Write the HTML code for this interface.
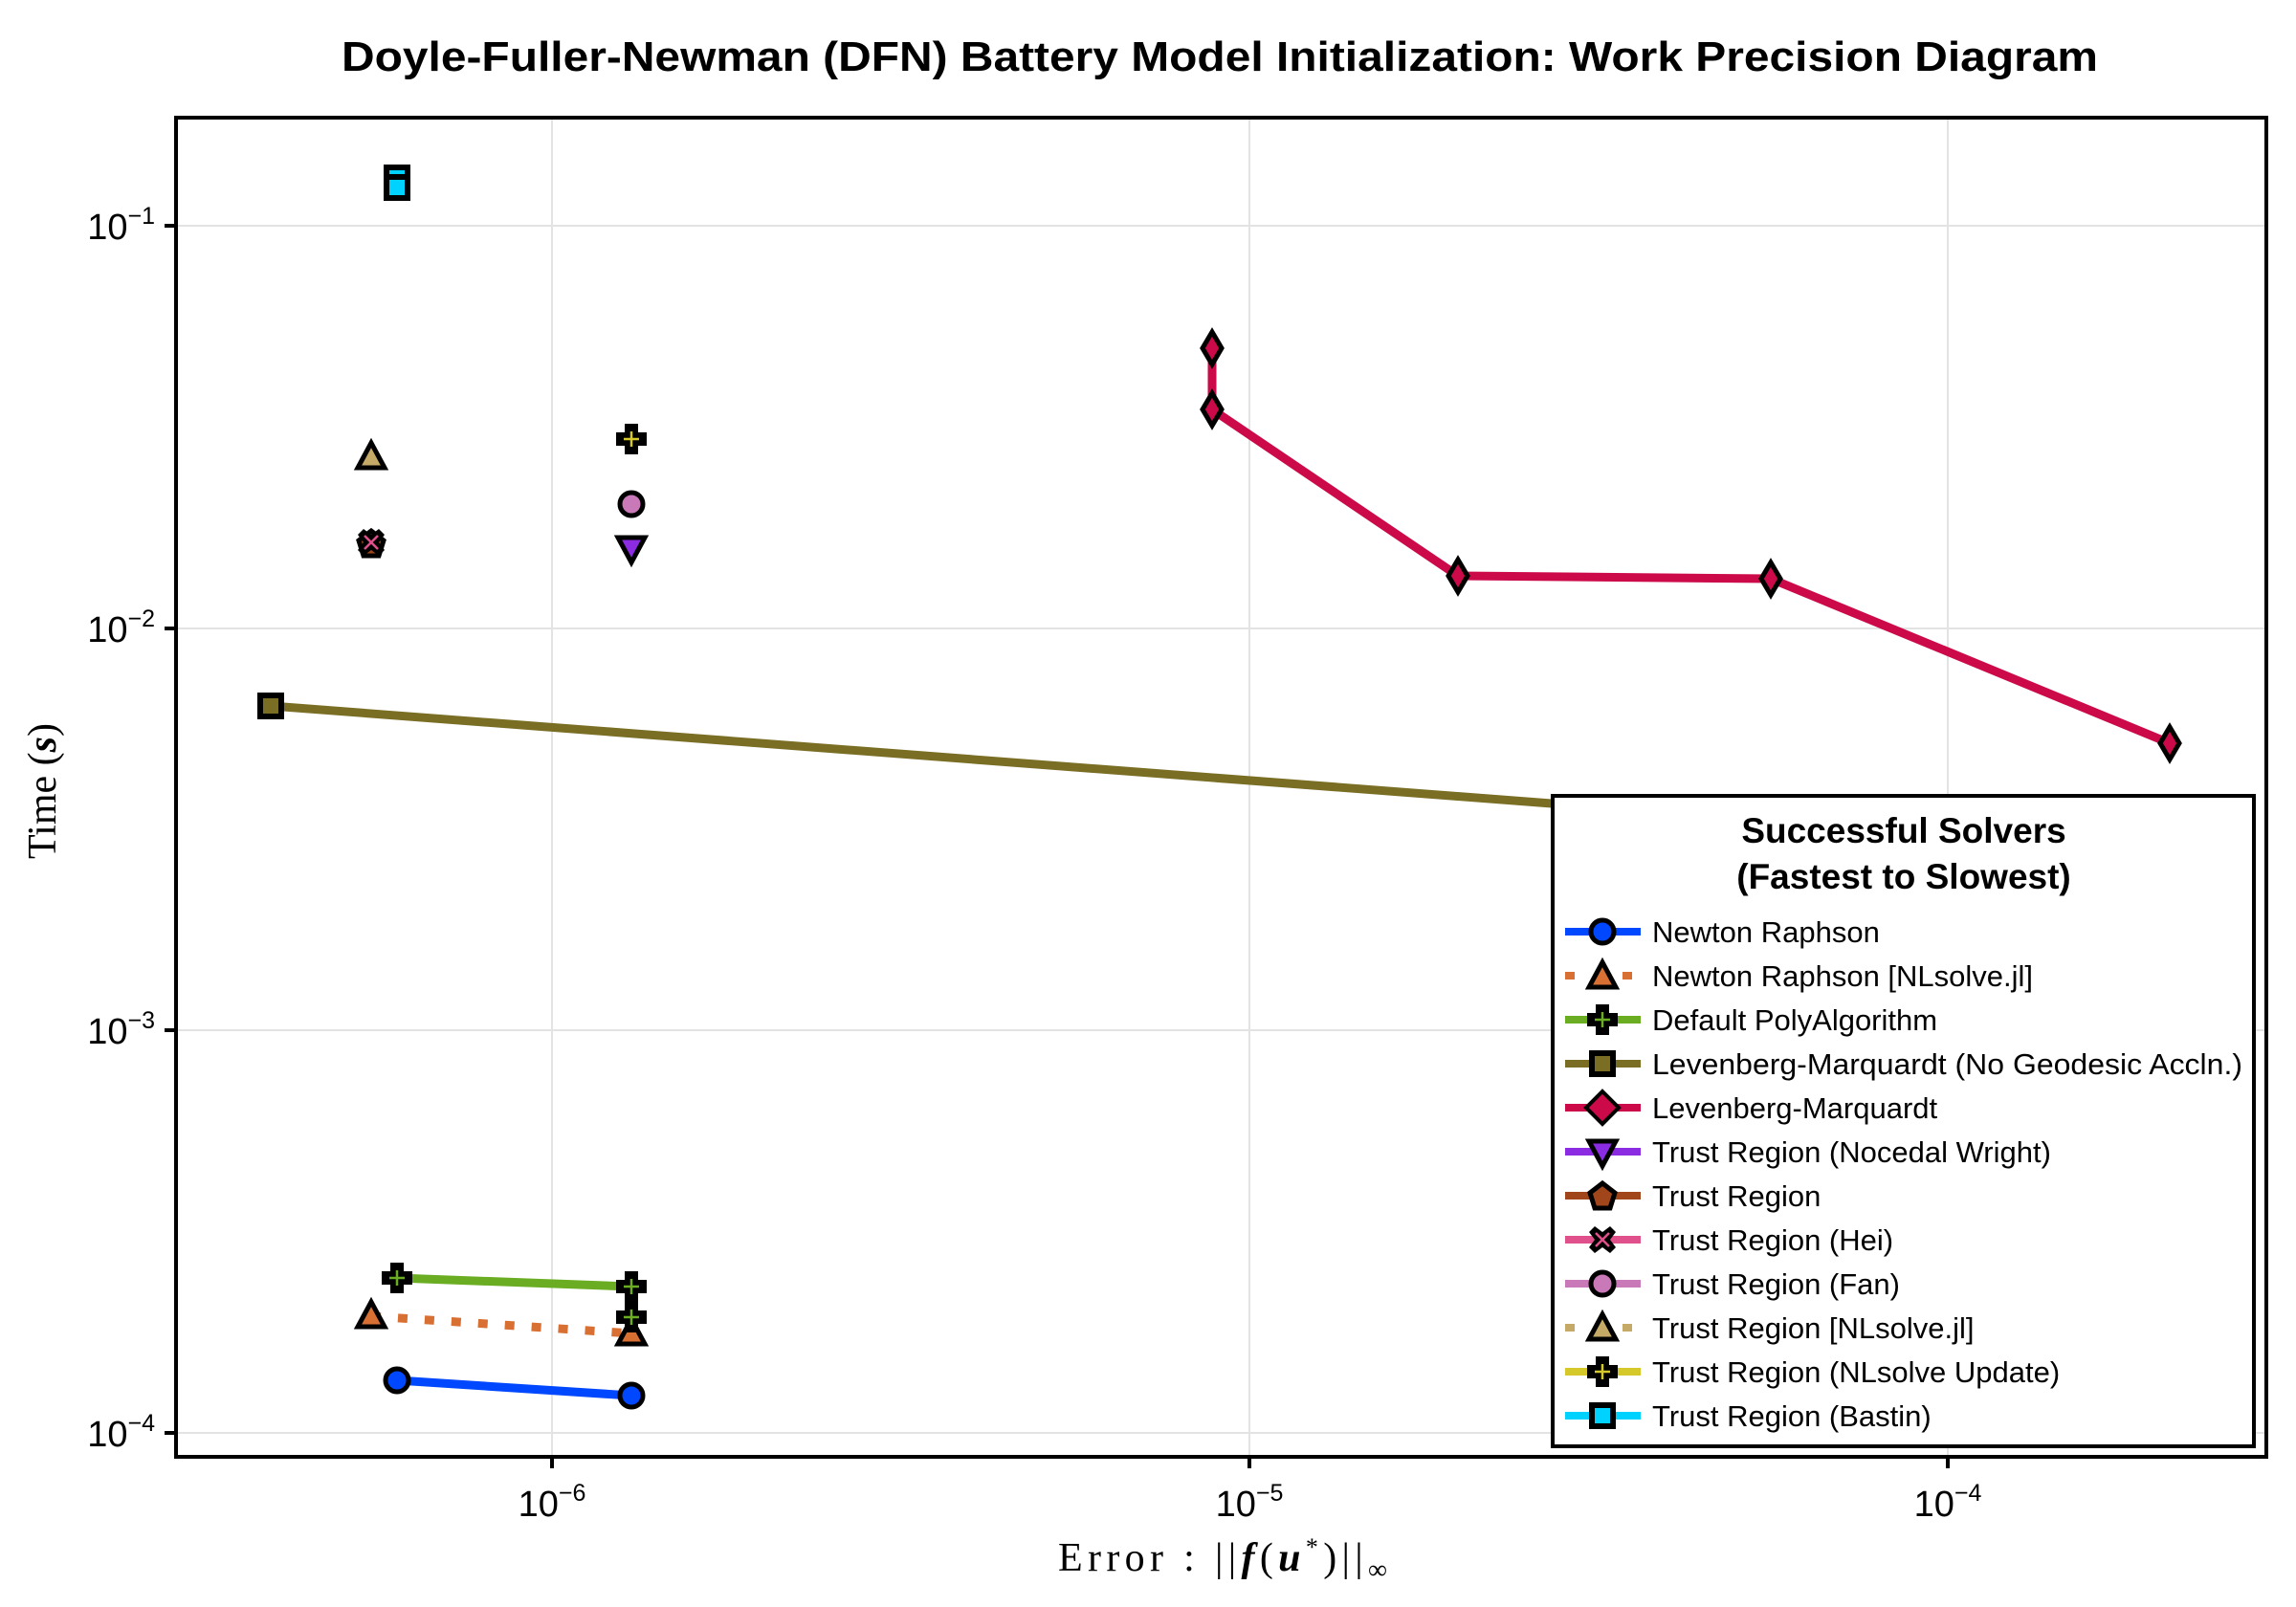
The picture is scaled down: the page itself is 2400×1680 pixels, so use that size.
<!DOCTYPE html>
<html><head><meta charset="utf-8"><style>html,body{margin:0;padding:0;background:#fff}svg{display:block}</style></head><body>
<svg width="2400" height="1680" viewBox="0 0 2400 1680" xmlns="http://www.w3.org/2000/svg">
<defs>
<g id="mcirc"><circle r="12" stroke="#000" stroke-width="5"/></g>
<g id="mtri"><polygon points="0,-15 14,11 -14,11" stroke="#000" stroke-width="5" stroke-linejoin="miter"/></g>
<g id="mtrid"><polygon points="0,15 14,-11 -14,-11" stroke="#000" stroke-width="5"/></g>
<g id="msq"><rect x="-11" y="-11" width="22" height="22" stroke="#000" stroke-width="6"/></g>
<g id="mdia"><polygon points="0,-17 10,0 0,17 -10,0" stroke="#000" stroke-width="5"/></g>
<g id="mpent"><polygon points="0,-14 13,-4 8,12 -8,12 -13,-4" stroke="#000" stroke-width="5"/></g>
</defs>
<rect width="2400" height="1680" fill="#fff"/>
<text x="1275" y="74" text-anchor="middle" font-family="Liberation Sans, sans-serif" font-weight="bold" font-size="44" textLength="1836" lengthAdjust="spacingAndGlyphs">Doyle-Fuller-Newman (DFN) Battery Model Initialization: Work Precision Diagram</text>
<g stroke="#e3e3e3" stroke-width="2">
<line x1="577" y1="123" x2="577" y2="1523"/><line x1="1306" y1="123" x2="1306" y2="1523"/><line x1="2036" y1="123" x2="2036" y2="1523"/>
<line x1="184" y1="236" x2="2369" y2="236"/><line x1="184" y1="657" x2="2369" y2="657"/><line x1="184" y1="1077" x2="2369" y2="1077"/><line x1="184" y1="1498" x2="2369" y2="1498"/>
</g>
<g stroke="#000" stroke-width="4">
<line x1="172" y1="236" x2="184" y2="236"/><line x1="172" y1="657" x2="184" y2="657"/><line x1="172" y1="1077" x2="184" y2="1077"/><line x1="172" y1="1498" x2="184" y2="1498"/>
<line x1="577" y1="1523" x2="577" y2="1535"/><line x1="1306" y1="1523" x2="1306" y2="1535"/><line x1="2036" y1="1523" x2="2036" y2="1535"/>
</g>
<g font-family="Liberation Sans, sans-serif" font-size="38" fill="#000">
<text x="162" y="250" text-anchor="end">10<tspan font-size="25" dy="-16">−1</tspan></text>
<text x="162" y="671" text-anchor="end">10<tspan font-size="25" dy="-16">−2</tspan></text>
<text x="162" y="1091" text-anchor="end">10<tspan font-size="25" dy="-16">−3</tspan></text>
<text x="162" y="1512" text-anchor="end">10<tspan font-size="25" dy="-16">−4</tspan></text>
<text x="577" y="1585" text-anchor="middle">10<tspan font-size="25" dy="-16">−6</tspan></text>
<text x="1306" y="1585" text-anchor="middle">10<tspan font-size="25" dy="-16">−5</tspan></text>
<text x="2036" y="1585" text-anchor="middle">10<tspan font-size="25" dy="-16">−4</tspan></text>
</g>
<text x="1106" y="1642" font-family="Liberation Serif, serif" font-size="42" textLength="344" lengthAdjust="spacing">Error :  ||<tspan font-style="italic" font-weight="bold">f</tspan>(<tspan font-style="italic" font-weight="bold">u</tspan><tspan font-size="26" dy="-16">*</tspan><tspan dy="16">)||</tspan><tspan font-size="28" dy="8">∞</tspan></text>
<text transform="translate(58,827) rotate(-90)" text-anchor="middle" font-family="Liberation Serif, serif" font-size="42">Time (<tspan font-style="italic" font-weight="bold">s</tspan>)</text>
<g fill="none" stroke-width="9" stroke-linejoin="round">
<polyline stroke="#7a6e25" points="283,738 1622,840 2300,891"/>
<polyline stroke="#cc0a4a" points="1267,364 1267,428 1524,602 1851,605 2268,777"/>
<polyline stroke="#6aad22" points="415,1336 660,1345 660,1377"/>
<polyline stroke="#d87033" stroke-dasharray="10,18" points="388,1376 660,1394"/>
<polyline stroke="#0048ff" points="415,1443 660,1459"/>
</g>
<use href="#msq" x="283" y="738" fill="#7a6e25"/>
<use href="#mdia" x="1267" y="364" fill="#cc0a4a"/><use href="#mdia" x="1267" y="428" fill="#cc0a4a"/><use href="#mdia" x="1524" y="602" fill="#cc0a4a"/><use href="#mdia" x="1851" y="605" fill="#cc0a4a"/><use href="#mdia" x="2268" y="777" fill="#cc0a4a"/>
<use href="#mtri" x="388" y="1376" fill="#d87033"/><use href="#mtri" x="660" y="1394" fill="#d87033"/>
<use href="#mcirc" x="415" y="1443" fill="#0048ff"/><use href="#mcirc" x="660" y="1459" fill="#0048ff"/>
<g>
<path d="M-5,-14h10v9h9v10h-9v9h-10v-9h-9v-10h9z" fill="#000" stroke="#000" stroke-width="4" transform="translate(415,1336)"/>
<path d="M-5,-14h10v9h9v10h-9v9h-10v-9h-9v-10h9z" fill="#000" stroke="#000" stroke-width="4" transform="translate(660,1345)"/>
<path d="M-5,-14h10v9h9v10h-9v9h-10v-9h-9v-10h9z" fill="#000" stroke="#000" stroke-width="4" transform="translate(660,1377)"/>
<path d="M-5,-14h10v9h9v10h-9v9h-10v-9h-9v-10h9z" fill="#000" stroke="#000" stroke-width="4" transform="translate(660,459)"/>
</g>
<g stroke-width="2.5">
<path d="M415,1328v16M407,1336h16M660,1337v16M652,1345h16M660,1369v16M652,1377h16" stroke="#6aad22"/>
<path d="M660,451v16M652,459h16" stroke="#d4c82a"/>
</g>
<use href="#msq" x="415" y="186" fill="#00d2ff"/><use href="#msq" x="415" y="196" fill="#00d2ff"/>
<use href="#mtri" x="388" y="478" fill="#c4aa66"/>
<use href="#mpent" x="388" y="569" fill="#a0461a"/>
<path d="M-8,-14l8,6l8,-6l6,6l-6,8l6,8l-6,6l-8,-6l-8,6l-6,-6l6,-8l-6,-8z" transform="translate(388,567)" fill="#000"/>
<path d="M381,560l14,14M395,560l-14,14" stroke="#e0508a" stroke-width="2.5"/>
<use href="#mcirc" x="660" y="527" fill="#c978b8"/>
<use href="#mtrid" x="660" y="573" fill="#8b2be2"/>
<rect x="184" y="123" width="2185" height="1400" fill="none" stroke="#000" stroke-width="4"/>
<rect x="1623" y="832" width="733" height="680" fill="#fff" stroke="#000" stroke-width="4"/>
<g font-family="Liberation Sans, sans-serif" text-anchor="middle" font-weight="bold" font-size="37">
<text x="1990" y="881">Successful Solvers</text>
<text x="1990" y="929">(Fastest to Slowest)</text>
</g>
<g stroke-width="8">
<line x1="1636" y1="974" x2="1715" y2="974" stroke="#0048ff"/>
<line x1="1636" y1="1020" x2="1715" y2="1020" stroke="#d87033" stroke-dasharray="10,50"/>
<line x1="1636" y1="1066" x2="1715" y2="1066" stroke="#6aad22"/>
<line x1="1636" y1="1112" x2="1715" y2="1112" stroke="#7a6e25"/>
<line x1="1636" y1="1158" x2="1715" y2="1158" stroke="#cc0a4a"/>
<line x1="1636" y1="1204" x2="1715" y2="1204" stroke="#8b2be2"/>
<line x1="1636" y1="1250" x2="1715" y2="1250" stroke="#a0461a"/>
<line x1="1636" y1="1296" x2="1715" y2="1296" stroke="#e0508a"/>
<line x1="1636" y1="1342" x2="1715" y2="1342" stroke="#c978b8"/>
<line x1="1636" y1="1388" x2="1715" y2="1388" stroke="#c4aa66" stroke-dasharray="10,50"/>
<line x1="1636" y1="1434" x2="1715" y2="1434" stroke="#d4c82a"/>
<line x1="1636" y1="1480" x2="1715" y2="1480" stroke="#00d2ff"/>
</g>
<use href="#mcirc" x="1675" y="974" fill="#0048ff"/>
<use href="#mtri" x="1675" y="1021" fill="#d87033"/>
<path d="M-5,-14h10v9h9v10h-9v9h-10v-9h-9v-10h9z" fill="#000" stroke="#000" stroke-width="4" transform="translate(1675,1066)"/>
<path d="M1675,1058v16M1667,1066h16" stroke="#6aad22" stroke-width="2.5"/>
<use href="#msq" x="1675" y="1112" fill="#7a6e25"/>
<polygon points="1675,1141 1692,1158 1675,1175 1658,1158" fill="#cc0a4a" stroke="#000" stroke-width="4"/>
<use href="#mtrid" x="1675" y="1204" fill="#8b2be2"/>
<use href="#mpent" x="1675" y="1251" fill="#a0461a"/>
<path d="M-8,-14l8,6l8,-6l6,6l-6,8l6,8l-6,6l-8,-6l-8,6l-6,-6l6,-8l-6,-8z" transform="translate(1675,1296)" fill="#000"/>
<path d="M1668,1289l14,14M1682,1289l-14,14" stroke="#e0508a" stroke-width="2.5"/>
<use href="#mcirc" x="1675" y="1342" fill="#c978b8"/>
<use href="#mtri" x="1675" y="1389" fill="#c4aa66"/>
<path d="M-5,-14h10v9h9v10h-9v9h-10v-9h-9v-10h9z" fill="#000" stroke="#000" stroke-width="4" transform="translate(1675,1434)"/>
<path d="M1675,1426v16M1667,1434h16" stroke="#d4c82a" stroke-width="2.5"/>
<use href="#msq" x="1675" y="1480" fill="#00d2ff"/>
<g font-family="Liberation Sans, sans-serif" font-size="31">
<text x="1727" y="985">Newton Raphson</text>
<text x="1727" y="1031">Newton Raphson [NLsolve.jl]</text>
<text x="1727" y="1077">Default PolyAlgorithm</text>
<text x="1727" y="1123" textLength="617" lengthAdjust="spacingAndGlyphs">Levenberg-Marquardt (No Geodesic Accln.)</text>
<text x="1727" y="1169">Levenberg-Marquardt</text>
<text x="1727" y="1215">Trust Region (Nocedal Wright)</text>
<text x="1727" y="1261">Trust Region</text>
<text x="1727" y="1307">Trust Region (Hei)</text>
<text x="1727" y="1353">Trust Region (Fan)</text>
<text x="1727" y="1399">Trust Region [NLsolve.jl]</text>
<text x="1727" y="1445">Trust Region (NLsolve Update)</text>
<text x="1727" y="1491">Trust Region (Bastin)</text>
</g>
</svg>
</body></html>
